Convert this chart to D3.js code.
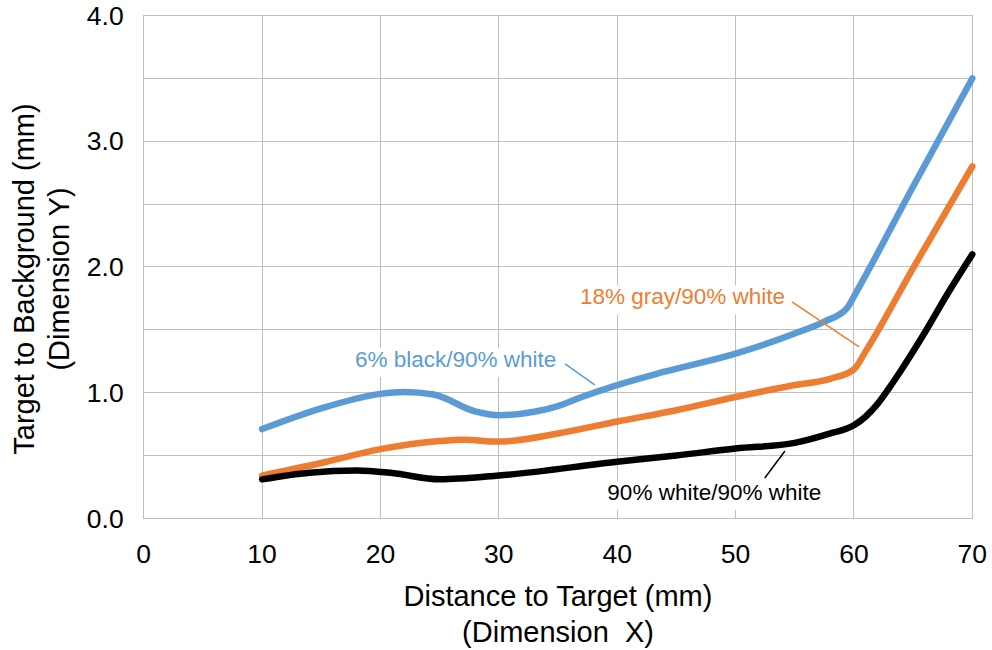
<!DOCTYPE html>
<html>
<head>
<meta charset="utf-8">
<style>
  body { margin: 0; background: #fff; font-family: "Liberation Sans", Arial, sans-serif; }
  .grid line { stroke: #bfbfbf; stroke-width: 1; shape-rendering: crispEdges; }
  .frame { fill: none; stroke: #bfbfbf; stroke-width: 1; shape-rendering: crispEdges; }
  .tick-label { font-size: 26.5px; fill: #000; }
  .axis-title { font-size: 29px; fill: #000; }
  .series { fill: none; stroke-width: 6.5; stroke-linecap: round; stroke-linejoin: round; }
  .note { font-size: 22.5px; }
</style>
<script src="https://cdn.jsdelivr.net/npm/d3@7"></script>
</head>
<body>
<script>
// series: 6% black / 90% white
var distBlue = [10, 15, 20, 22, 24.5, 28, 30, 33, 35, 37, 40, 44, 50, 55, 57.5, 59.4, 60.2, 65, 70];
var valBlue  = [0.71, 0.875, 0.99, 1.005, 0.985, 0.85, 0.82, 0.848, 0.893, 0.965, 1.06, 1.166, 1.31, 1.47, 1.565, 1.67, 1.80, 2.64, 3.50];

// series: 18% gray / 90% white
var distOrange = [10, 15, 20, 25, 27, 30, 35, 40, 45, 50, 55, 58, 60, 61, 65, 70];
var valOrange  = [0.34, 0.44, 0.55, 0.615, 0.625, 0.61, 0.675, 0.77, 0.86, 0.965, 1.06, 1.11, 1.185, 1.33, 1.99, 2.80];

// series: 90% white / 90% white
var distBlack = [10, 14, 18, 21, 25, 30, 40, 45, 50, 55, 58, 60, 61, 62, 63, 64, 66, 68, 70];
var valBlack  = [0.31, 0.363, 0.38, 0.36, 0.31, 0.34, 0.45, 0.50, 0.555, 0.60, 0.675, 0.74, 0.81, 0.91, 1.04, 1.18, 1.48, 1.80, 2.10];

var seriesNames = ['6% black/90% white', '18% gray/90% white', '90% white/90% white'];
var xTicks = [0, 10, 20, 30, 40, 50, 60, 70];
var yTicks = [0, 1, 2, 3, 4];
var yGrid = [0, 0.5, 1, 1.5, 2, 2.5, 3, 3.5, 4];

var width = 992, height = 650;
var plot = {left: 143.7, right: 972.3, top: 15.5, bottom: 518.3};

var svg = d3.select('body').append('svg')
  .attr('width', width)
  .attr('height', height);

var x = d3.scaleLinear().domain([0, 70]).range([plot.left, plot.right]);
var y = d3.scaleLinear().domain([0, 4]).range([plot.bottom, plot.top]);

// gridlines
var grid = svg.append('g').attr('class', 'grid');
grid.selectAll('line.v').data(xTicks).enter().append('line')
  .attr('class', 'v')
  .attr('x1', d => x(d)).attr('x2', d => x(d))
  .attr('y1', plot.top).attr('y2', plot.bottom);
grid.selectAll('line.h').data(yGrid).enter().append('line')
  .attr('class', 'h')
  .attr('x1', plot.left).attr('x2', plot.right)
  .attr('y1', d => y(d)).attr('y2', d => y(d));

svg.append('rect').attr('class', 'frame')
  .attr('x', plot.left).attr('y', plot.top)
  .attr('width', plot.right - plot.left)
  .attr('height', plot.bottom - plot.top);

// tick labels
svg.append('g').selectAll('text').data(yTicks).enter().append('text')
  .attr('class', 'tick-label')
  .attr('x', plot.left - 20)
  .attr('y', d => y(d))
  .attr('dy', '0.35em')
  .attr('text-anchor', 'end')
  .text(d3.format('.1f'));

svg.append('g').selectAll('text').data(xTicks).enter().append('text')
  .attr('class', 'tick-label')
  .attr('x', d => x(d))
  .attr('y', plot.bottom + 44.5)
  .attr('text-anchor', 'middle')
  .text(d => d);

// axis titles
var cx = (plot.left + plot.right) / 2;
var xt = svg.append('text').attr('class', 'axis-title').attr('text-anchor', 'middle');
xt.append('tspan').attr('x', cx).attr('y', 606).text('Distance to Target (mm)');
xt.append('tspan').attr('x', cx).attr('y', 641.5).text('(Dimension\u00a0 X)');

var cy = 279;
var yt = svg.append('text').attr('class', 'axis-title').attr('text-anchor', 'middle')
  .attr('transform', 'translate(33.5,' + cy + ') rotate(-90)');
yt.append('tspan').attr('x', 0).attr('y', 0).text('Target to Background (mm)');
yt.append('tspan').attr('x', 0).attr('y', 35).text('(Dimension Y)');

// lines
var series = [
  {name: seriesNames[0], color: '#5b9bd5', xs: distBlue, ys: valBlue},
  {name: seriesNames[1], color: '#ed7d31', xs: distOrange, ys: valOrange},
  {name: seriesNames[2], color: '#000000', xs: distBlack, ys: valBlack}
];

var line = d3.line()
  .x(d => x(d[0]))
  .y(d => y(d[1]))
  .curve(d3.curveMonotoneX);

svg.append('g').selectAll('path').data(series).enter().append('path')
  .attr('class', 'series')
  .attr('stroke', d => d.color)
  .attr('d', d => line(d.xs.map((v, i) => [v, d.ys[i]])));

// data labels with leader lines (positions in data units)
var notes = [
  {s: 0, tx: 17.85, ty: 1.204, from: [35.6, 1.228], to: [38.1, 1.061]},
  {s: 1, tx: 36.86, ty: 1.702, from: [54.77, 1.721], to: [60.43, 1.364]},
  {s: 2, tx: 39.17, ty: 0.146, from: [52.47, 0.321], to: [54.17, 0.535]}
];

notes.forEach(function(n) {
  var s = series[n.s];
  var g = svg.append('g');
  var bg = g.append('rect').attr('fill', '#fff');
  var t = g.append('text')
    .attr('class', 'note')
    .attr('x', x(n.tx))
    .attr('y', y(n.ty))
    .attr('fill', s.color)
    .text(s.name);
  var b = t.node().getBBox();
  bg.attr('x', b.x - 4).attr('y', b.y + 1)
    .attr('width', b.width + 8).attr('height', b.height + 4);
  g.append('line')
    .attr('x1', x(n.from[0])).attr('y1', y(n.from[1]))
    .attr('x2', x(n.to[0])).attr('y2', y(n.to[1]))
    .attr('stroke', s.color)
    .attr('stroke-width', 1.5);
});
</script>
</body>
</html>
